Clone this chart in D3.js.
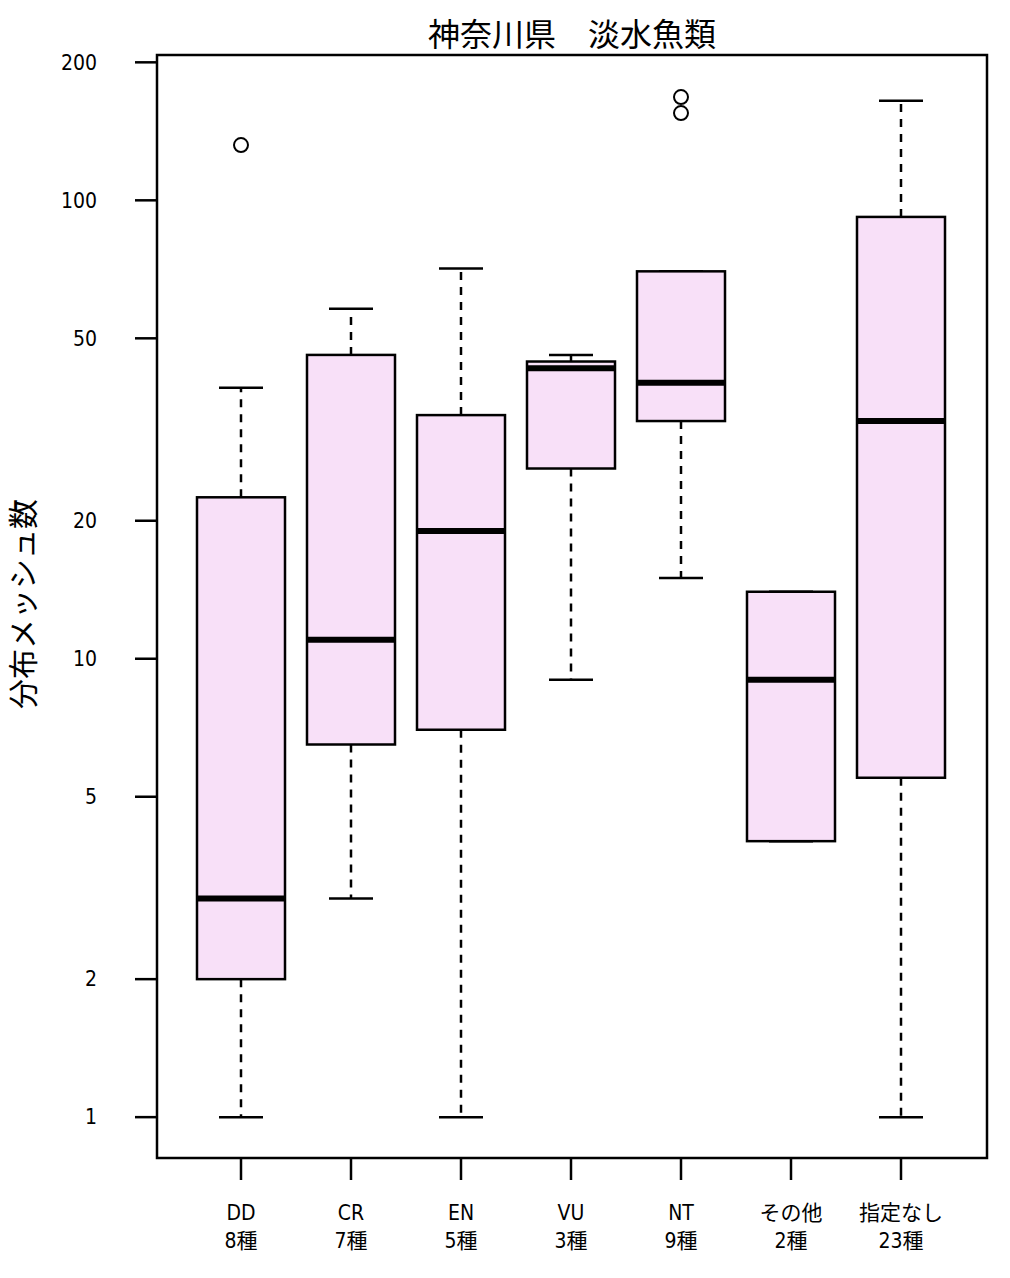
<!DOCTYPE html>
<html><head><meta charset="utf-8">
<script src="https://cdn.jsdelivr.net/npm/d3@7"></script>
<style>body{margin:0;background:#fff}</style>
</head><body>
<svg id="c" width="1010" height="1278"></svg>
<script>
const categories = ["DD","CR","EN","VU","NT","その他","指定なし"];
const counts = ["8種","7種","5種","3種","9種","2種","23種"];
const whiskerLow = [1, 3, 1, 9, 15, 4, 1];
const q1 = [2, 6.5, 7, 26, 33, 4, 5.5];
const median = [3, 11, 19, 43, 40, 9, 33];
const q3 = [22.5, 46, 34, 44.5, 70, 14, 92];
const whiskerHigh = [39, 58, 71, 46, 70, 14, 165];
const outliers = [[132], [], [], [], [168, 155], [], []];
const yTicks = [1, 2, 5, 10, 20, 50, 100, 200];
const title = "神奈川県　淡水魚類";
const yLabel = "分布メッシュ数";

const svg = d3.select("#c");
const L = 157, R = 987, T = 55, B = 1158;
const y = d3.scaleLog().domain([0.8145, 207.5]).range([B, T]);
const x = d3.scalePoint().domain(categories).range([241, 901]);
const cx = c => x(c);
const bw = 88, cap = 44;
const numFont = "'Liberation Sans Narrow','DejaVu Sans Condensed',sans-serif";
const cjk = "'Noto Sans CJK JP',sans-serif";

svg.append("text").attr("x", 572).attr("y", 46).attr("text-anchor", "middle")
  .attr("font-family", cjk).attr("font-size", 32).text(title);

const g = svg.append("g");
categories.forEach((c, i) => {
  const xc = cx(c);
  [[q1[i], whiskerLow[i]], [q3[i], whiskerHigh[i]]].forEach(([a, b]) => {
    if (a !== b) {
      g.append("line").attr("x1", xc).attr("x2", xc).attr("y1", y(a)).attr("y2", y(b))
        .attr("stroke", "#000").attr("stroke-width", 2.5).attr("stroke-dasharray", "8,7");
    }
    g.append("line").attr("x1", xc - cap / 2).attr("x2", xc + cap / 2).attr("y1", y(b)).attr("y2", y(b))
      .attr("stroke", "#000").attr("stroke-width", 2.5);
  });
  g.append("rect").attr("x", xc - bw / 2).attr("width", bw)
    .attr("y", y(q3[i])).attr("height", y(q1[i]) - y(q3[i]))
    .attr("fill", "#f8e0f8").attr("stroke", "#000").attr("stroke-width", 2.5);
  g.append("line").attr("x1", xc - bw / 2).attr("x2", xc + bw / 2).attr("y1", y(median[i])).attr("y2", y(median[i]))
    .attr("stroke", "#000").attr("stroke-width", 6);
  outliers[i].forEach(o => {
    g.append("circle").attr("cx", xc).attr("cy", y(o)).attr("r", 7)
      .attr("fill", "none").attr("stroke", "#000").attr("stroke-width", 2);
  });
});

svg.append("rect").attr("x", L).attr("y", T).attr("width", R - L).attr("height", B - T)
  .attr("fill", "none").attr("stroke", "#000").attr("stroke-width", 2.5);

const ya = svg.append("g").attr("transform", `translate(${L - 22},0)`)
  .call(d3.axisLeft(y).tickValues(yTicks).tickFormat(d3.format("d")).tickSize(0).tickPadding(38));
ya.select(".domain").remove();
ya.selectAll("text").attr("font-family", numFont).attr("font-size", 21).attr("fill", "#000");
svg.append("g").selectAll("line").data(yTicks).join("line")
  .attr("x1", L - 22).attr("x2", L).attr("y1", d => y(d)).attr("y2", d => y(d))
  .attr("stroke", "#000").attr("stroke-width", 2.5);

const xa = svg.append("g").attr("transform", `translate(0,${B})`);
xa.selectAll("line").data(categories).join("line")
  .attr("x1", d => cx(d)).attr("x2", d => cx(d)).attr("y1", 0).attr("y2", 22)
  .attr("stroke", "#000").attr("stroke-width", 2.5);
categories.forEach((c, i) => {
  const t = xa.append("text").attr("x", cx(c)).attr("text-anchor", "middle")
    .attr("font-size", 21).attr("fill", "#000");
  t.append("tspan").attr("x", cx(c)).attr("y", 62)
    .attr("font-family", /^[A-Z]+$/.test(c) ? numFont : cjk).text(c);
  t.append("tspan").attr("x", cx(c)).attr("y", 90).attr("font-family", numFont).text(counts[i].replace("種", ""))
    .append("tspan").attr("font-family", cjk).text("種");
});

svg.append("text").attr("transform", "translate(34,604) rotate(-90)").attr("text-anchor", "middle")
  .attr("font-family", cjk).attr("font-size", 30).text(yLabel);
</script>
</body></html>
